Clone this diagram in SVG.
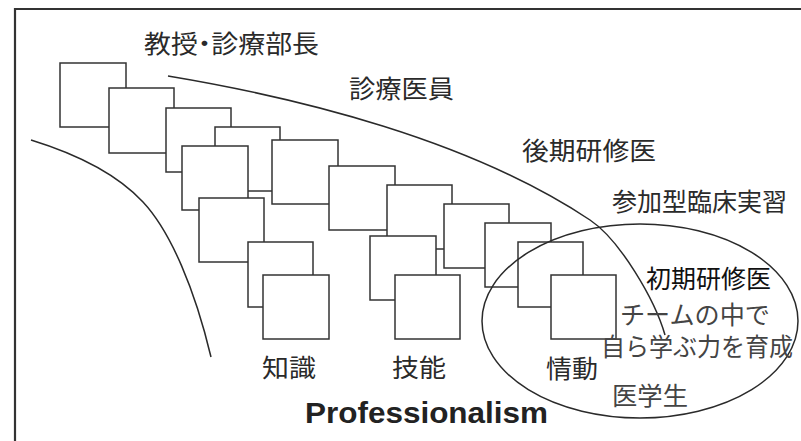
<svg xmlns="http://www.w3.org/2000/svg" width="801" height="441" viewBox="0 0 801 441">
<style>
.box{fill:#fff;stroke:#333;stroke-width:1.5}
.ln{fill:none;stroke:#2a2a2a;stroke-width:1.5}
.frame{fill:none;stroke:#333;stroke-width:2.2}
.jp{font-family:"Noto Sans CJK JP","Noto Sans CJK SC",sans-serif;fill:#2a2a2a;font-size:25px}
.soft{fill:#444}
.palt{font-feature-settings:"palt"}
.en{font-family:"Liberation Sans",Arial,sans-serif;font-weight:bold;fill:#222;font-size:29.5px}
</style>
<rect width="801" height="441" fill="#fff"/>
<path class="frame" d="M15,441 L15,9 L801,9"/>
<g id="boxes">
<g id="b1"><rect class="box" x="60" y="63" width="66" height="64"/></g>
<g id="b2"><rect class="box" x="109" y="88" width="65" height="65"/></g>
<g id="b3"><rect class="box" x="166" y="108" width="65" height="64"/></g>
<g id="b4"><rect class="box" x="215" y="127" width="65" height="64"/></g>
<g id="b5"><rect class="box" x="182" y="146" width="66" height="64"/></g>
<g id="b6"><rect class="box" x="272" y="140" width="66" height="64"/></g>
<g id="b7"><rect class="box" x="329" y="166" width="66" height="64"/></g>
<g id="b8"><rect class="box" x="199" y="198" width="65" height="64"/></g>
<g id="b12"><rect class="box" x="248" y="242" width="65" height="65"/></g>
<g id="b13"><rect class="box" x="263" y="275" width="66" height="64"/></g>
<g id="b9"><rect class="box" x="387" y="185" width="65" height="64"/></g>
<g id="b10"><rect class="box" x="370" y="236" width="66" height="64"/></g>
<g id="b11"><rect class="box" x="395" y="275" width="65" height="64"/></g>
<g id="b14"><rect class="box" x="444" y="204" width="65" height="64"/></g>
<g id="b15"><rect class="box" x="485" y="223" width="66" height="64"/></g>
<g id="b16"><rect class="box" x="518" y="242" width="65" height="65"/></g>
<g id="b17"><rect class="box" x="551" y="275" width="65" height="64"/></g>
</g>
<g id="connectors">
<path class="ln" d="M31,140 C70,152 115,172 143,202 C171,232 195,290 211,357"/>
<path class="ln" d="M168,76 C300,98 470,140 590,220 C620,240 655,300 665,335"/>
<ellipse class="ln" cx="640" cy="321" rx="158" ry="97" stroke-width="1.8"/>
</g>
<g id="labels">
<g id="t-kyoju"><text class="jp palt" x="144" y="53" font-size="26" textLength="175" lengthAdjust="spacingAndGlyphs">教授・診療部長</text></g>
<g id="t-shinryo"><text class="jp" x="349" y="98" font-size="26" textLength="105" lengthAdjust="spacingAndGlyphs">診療医員</text></g>
<g id="t-koki"><text class="jp" x="522" y="160" font-size="26" textLength="134" lengthAdjust="spacingAndGlyphs">後期研修医</text></g>
<g id="t-sanka"><text class="jp" x="612" y="211" textLength="175" lengthAdjust="spacingAndGlyphs">参加型臨床実習</text></g>
<g id="t-shoki"><text class="jp" x="646" y="288" font-size="24.5" textLength="125" lengthAdjust="spacingAndGlyphs" style="fill:#111">初期研修医</text></g>
<g id="t-team"><text class="jp soft" x="620" y="324" font-size="24" textLength="150" lengthAdjust="spacingAndGlyphs">チームの中で</text></g>
<g id="t-jira"><text class="jp soft" x="601" y="356" font-size="23.5" textLength="192" lengthAdjust="spacingAndGlyphs">自ら学ぶ力を育成</text></g>
<g id="t-igakusei"><text class="jp soft" x="612" y="405" textLength="76" lengthAdjust="spacingAndGlyphs">医学生</text></g>
<g id="t-jodo"><text class="jp" x="546" y="378" textLength="52" lengthAdjust="spacingAndGlyphs">情動</text></g>
<g id="t-gino"><text class="jp" x="392" y="377" textLength="54" lengthAdjust="spacingAndGlyphs">技能</text></g>
<g id="t-chishiki"><text class="jp" x="262" y="377" textLength="54" lengthAdjust="spacingAndGlyphs">知識</text></g>
<g id="t-prof"><text class="en" x="305" y="423" textLength="243" lengthAdjust="spacingAndGlyphs">Professionalism</text></g>
</g>
</svg>
